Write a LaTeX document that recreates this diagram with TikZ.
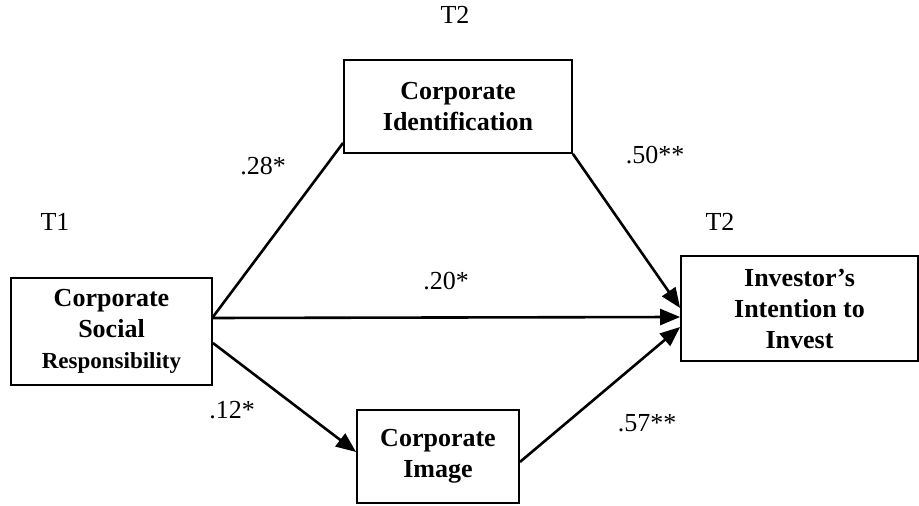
\documentclass[tikz,border=0pt]{standalone}
\usepackage{fontspec}
\setmainfont{Liberation Serif}
\usetikzlibrary{arrows.meta}

\begin{document}
\begin{tikzpicture}[x=0.5pt, y=-0.5pt, line width=1.3pt,
    box/.style={rectangle, draw, line width=0.9pt, align=center, font=\fontsize{13}{15.5}\selectfont\bfseries, inner sep=0pt},
    lbl/.style={font=\fontsize{13}{15.5}\selectfont, inner sep=0pt},
    arr/.style={-{Triangle[length=10pt, width=8pt]}}]
    \useasboundingbox (0,0) rectangle (919,506);

    \node[box, minimum width=100.5pt, minimum height=53.5pt] (csr) at (111.5,331.5) {Corporate\\Social\\{\fontsize{11.5}{14}\selectfont Responsibility}};
    \node[box, minimum width=114pt, minimum height=46.5pt] (ident) at (458,106.5) {Corporate\\Identification};
    \node[box, minimum width=118.5pt, minimum height=52.5pt] (invest) at (799.5,308.5) {Investor's\\Intention to\\Invest};
    \node[box, minimum width=81pt, minimum height=46.5pt] (image) at (438,456.5) {Corporate\\Image};

    \node[lbl] (t2top) at (455,15) {T2};
    \node[lbl] (t1) at (55,222) {T1};
    \node[lbl] (t2right) at (720,222) {T2};
    \node[lbl] (pa) at (263,166) {.28*};
    \node[lbl] (pb) at (655,155) {.50**};
    \node[lbl] (pc) at (446,281) {.20*};
    \node[lbl] (pd) at (232,410) {.12*};
    \node[lbl] (pe) at (647,423) {.57**};

    \draw ([yshift=7.25pt]csr.east) -- ([yshift=5.5pt]ident.south west);
    \draw[arr] (ident.south east) -- ([yshift=0.25pt]invest.west);
    \draw[arr] ([yshift=6.75pt]csr.east) -- ([yshift=-4.25pt]invest.west);
    \draw[arr] ([yshift=-5.75pt]csr.east) -- ([yshift=2.25pt]image.west);
    \draw[arr] ([yshift=-2.75pt]image.east) -- ([yshift=-9.25pt]invest.west);
\end{tikzpicture}
\end{document}
